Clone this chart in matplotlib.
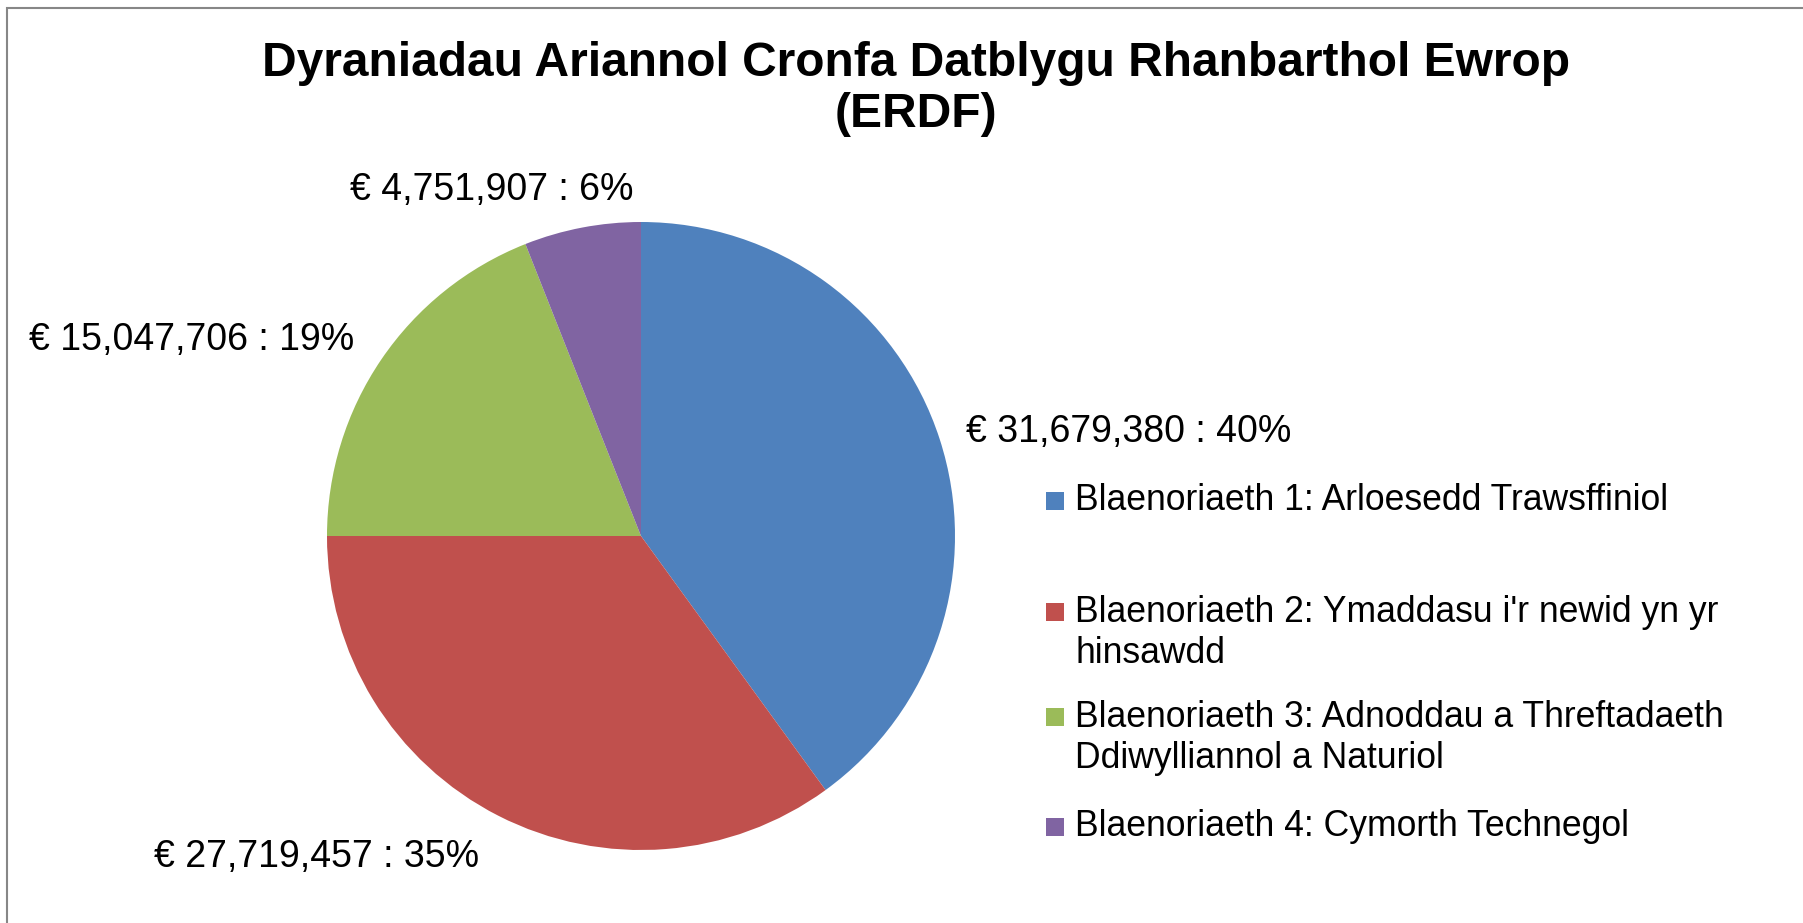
import matplotlib.pyplot as plt
from matplotlib.patches import Rectangle

plt.rcParams['font.family'] = ['Liberation Sans', 'DejaVu Sans']

# data
categories = [
    "Blaenoriaeth 1: Arloesedd Trawsffiniol",
    "Blaenoriaeth 2: Ymaddasu i'r newid yn yr\nhinsawdd",
    "Blaenoriaeth 3: Adnoddau a Threftadaeth\nDdiwylliannol a Naturiol",
    "Blaenoriaeth 4: Cymorth Technegol",
]
amounts = [31679380, 27719457, 15047706, 4751907]
colors = ["#4F81BD", "#C0504D", "#9BBB59", "#8064A2"]
title = "Dyraniadau Ariannol Cronfa Datblygu Rhanbarthol Ewrop\n(ERDF)"

W, H = 1803, 923
fig = plt.figure(figsize=(W / 100, H / 100), dpi=100)

# pie axes: centre (641, 536) px, radius 314 px
cx, cy, r = 641, 536, 314
ax = fig.add_axes([(cx - r) / W, (H - cy - r) / H, 2 * r / W, 2 * r / H])
wedges, _ = ax.pie(amounts, colors=colors, startangle=90, counterclock=False,
                   radius=1.0, wedgeprops=dict(linewidth=0))
ax.set_xlim(-1, 1)
ax.set_ylim(-1, 1)
ax.set_aspect('equal')
ax.axis('off')

# data labels, value : percent
total = sum(amounts)
label_pos = [(1129, 432), (317, 857), (192, 340), (492, 190)]
for amt, (px, py) in zip(amounts, label_pos):
    pct = round(100 * amt / total)
    fig.text(px / W, 1 - py / H, "€ {:,} : {}%".format(amt, pct),
             ha='center', va='center', fontsize=27)

# title
fig.text(916 / W, 1 - 89 / H, title, ha='center', va='center',
         fontsize=34.5, fontweight='bold', linespacing=1.15)

# legend, drawn by hand so the spacing matches
legend_y = [501, 633, 738, 827]
for lab, col, ly in zip(categories, colors, legend_y):
    first_line_y = ly if "\n" not in lab else ly - 21
    fig.patches.append(Rectangle((1046 / W, 1 - (first_line_y + 9) / H), 18 / W, 18 / H,
                                 transform=fig.transFigure, facecolor=col,
                                 edgecolor='none'))
    fig.text(1075 / W, 1 - ly / H, lab, ha='left', va='center',
             fontsize=25.6, linespacing=1.2)

# chart border
fig.patches.append(Rectangle((7 / W, -0.1), 1.2, 1.1 - 8 / H,
                             transform=fig.transFigure, fill=False,
                             edgecolor='#878787', linewidth=1.5))

fig.savefig("out.png", dpi=100)
